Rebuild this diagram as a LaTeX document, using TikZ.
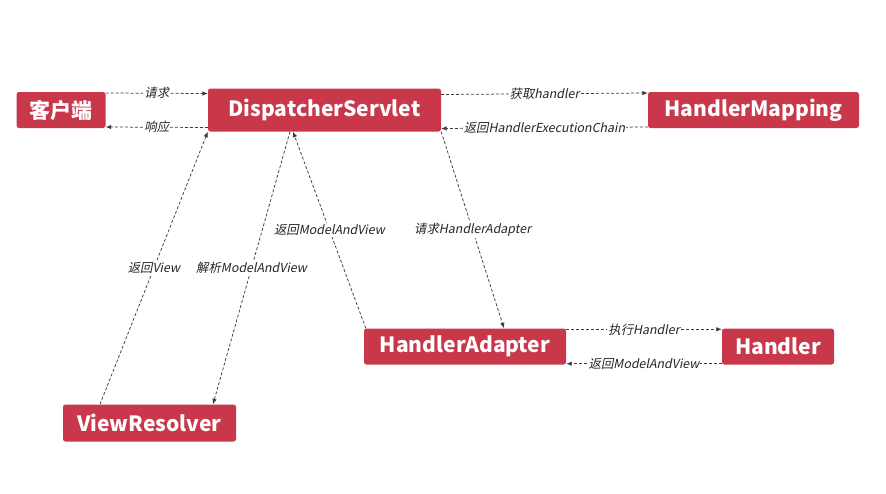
\documentclass[tikz,border=0pt]{standalone}
\usepackage{fontspec}
\usetikzlibrary{arrows.meta,positioning}
\newfontfamily\boxfont{Noto Sans CJK SC}
\newfontfamily\labfont[FakeSlant=0.2]{Noto Sans CJK SC}
\definecolor{boxred}{RGB}{200,55,74}
\definecolor{linegray}{RGB}{60,60,60}

\begin{document}
\begin{tikzpicture}[node distance=2cm,on grid,
    box/.style={rectangle,rounded corners=2.5pt,fill=boxred,text=white,
        font=\boxfont\bfseries\fontsize{21}{24}\selectfont,
        inner xsep=10pt,inner ysep=0pt,minimum height=36pt},
    flow/.style={draw=linegray,line width=0.75pt,dash pattern=on 3pt off 2pt,
        -{Latex[length=5.5pt,width=4.5pt]}},
    lbl/.style={fill=white,inner sep=1pt,text=black!85,
        font=\labfont\fontsize{12.4}{14}\selectfont}]
    \useasboundingbox (0,0) rectangle (886pt,-493pt);
    \node[box,minimum width=89pt] (cli) at (61pt,-110pt) {客户端};
    \node[box,minimum width=233pt,minimum height=43pt] [right=263.5pt of cli] (disp) {DispatcherServlet};
    \node[box,minimum width=211pt] [right=429pt of disp] (hmap) {HandlerMapping};
    \node[box,minimum width=202pt] [below right=236.5pt and 140.5pt of disp] (hadp) {HandlerAdapter};
    \node[box,minimum width=112pt] [right=313pt of hadp] (hdl) {Handler};
    \node[box,minimum width=173pt,minimum height=37pt] [below left=313pt and 175pt of disp] (vres) {ViewResolver};

    % client <-> dispatcher
    \draw[flow] ([yshift=17pt]cli.east) -- node[lbl] {请求} ([yshift=16.5pt]disp.west);
    \draw[flow] ([yshift=-17.5pt]disp.west) -- node[lbl] {响应} ([yshift=-17pt]cli.east);
    % dispatcher <-> mapping
    \draw[flow] ([yshift=15.5pt]disp.east) -- node[lbl] {获取handler} ([yshift=17pt]hmap.west);
    \draw[flow] ([yshift=-17pt]hmap.west) -- node[lbl] {返回HandlerExecutionChain} ([yshift=-18.5pt]disp.east);
    % dispatcher <-> adapter
    \draw[flow] (disp.south east) -- node[lbl] {请求HandlerAdapter} ([xshift=39pt]hadp.north);
    \draw[flow] ([xshift=2pt]hadp.north west) -- node[lbl] {返回ModelAndView} ([xshift=-31.5pt]disp.south);
    % adapter <-> handler
    \draw[flow] ([yshift=-1pt]hadp.north east) -- node[lbl] {执行Handler} ([yshift=-1pt]hdl.north west);
    \draw[flow] ([yshift=1pt]hdl.south west) -- node[lbl] {返回ModelAndView} ([yshift=1pt]hadp.south east);
    % dispatcher <-> view resolver
    \draw[flow] ([xshift=-34.5pt]disp.south) -- node[lbl] {解析ModelAndView} ([xshift=63.5pt]vres.north);
    \draw[flow] ([xshift=-49.5pt]vres.north) -- node[lbl] {返回View} (disp.south west);
\end{tikzpicture}
\end{document}
